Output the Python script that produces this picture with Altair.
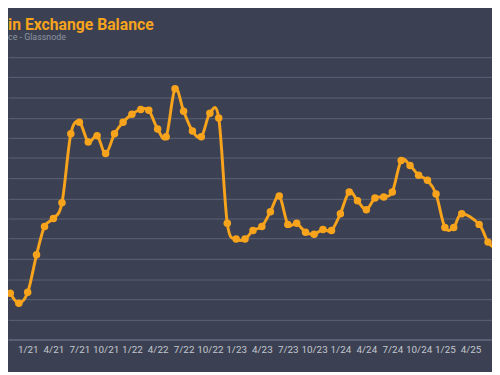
import altair as alt
import pandas as pd

# monthly readings (Apr 2025 not shown in the reference)
months = [
    "2020-11-01", "2020-12-01",
    "2021-01-01", "2021-02-01", "2021-03-01", "2021-04-01", "2021-05-01", "2021-06-01",
    "2021-07-01", "2021-08-01", "2021-09-01", "2021-10-01", "2021-11-01", "2021-12-01",
    "2022-01-01", "2022-02-01", "2022-03-01", "2022-04-01", "2022-05-01", "2022-06-01",
    "2022-07-01", "2022-08-01", "2022-09-01", "2022-10-01", "2022-11-01", "2022-12-01",
    "2023-01-01", "2023-02-01", "2023-03-01", "2023-04-01", "2023-05-01", "2023-06-01",
    "2023-07-01", "2023-08-01", "2023-09-01", "2023-10-01", "2023-11-01", "2023-12-01",
    "2024-01-01", "2024-02-01", "2024-03-01", "2024-04-01", "2024-05-01", "2024-06-01",
    "2024-07-01", "2024-08-01", "2024-09-01", "2024-10-01", "2024-11-01", "2024-12-01",
    "2025-01-01", "2025-02-01", "2025-03-01", "2025-05-01", "2025-06-01", "2025-07-01",
]
balance = [
    229, 180,
    234, 420, 561, 600, 678, 1020,
    1078, 980, 1010, 922, 1020, 1078,
    1117, 1141, 1137, 1044, 1005, 1244,
    1132, 1034, 1005, 1122, 1098, 576,
    498, 498, 541, 561, 634, 712,
    571, 576, 532, 522, 546, 541,
    624, 732, 688, 644, 702, 707,
    732, 888, 863, 815, 790, 722,
    556, 556, 624, 571, 483, 449,
]

# text as visible in the (cropped) reference
title_text = ["in Exchange Balance"]
subtitle_text = ["ce - Glassnode"]

BG = "#3b4152"
ORANGE = "#f7a31c"

df = pd.DataFrame({"month": months, "balance": balance})

x_ticks = [alt.DateTime(year=y, month=m, date=1, utc=True)
           for y in range(2021, 2026) for m in (1, 4, 7, 10)
           if not (y == 2025 and m >= 7)]

x_enc = alt.X(
    "month:T",
    scale=alt.Scale(
        type="utc",
        domain=[alt.DateTime(year=2020, month=10, date=24, utc=True),
                alt.DateTime(year=2025, month=6, date=15, utc=True)],
    ),
    axis=alt.Axis(
        title=None, values=x_ticks, format="%-m/%y", grid=False,
        ticks=False, domain=True, domainColor="#6a7184", domainWidth=1,
        labelColor="#c3c7d0", labelFontSize=10, labelFont="Roboto",
        labelPadding=5, labelFlush=False, labelOverlap=False,
    ),
)
y_enc = alt.Y(
    "balance:Q",
    scale=alt.Scale(domain=[0, 1400], nice=False, zero=True),
    axis=alt.Axis(
        title=None, values=list(range(0, 1401, 100)), grid=True,
        gridColor="#5c6375", gridWidth=1, ticks=False, domain=False,
        labels=False,
    ),
)

line = alt.Chart(df).mark_line(
    color=ORANGE, strokeWidth=3, interpolate="cardinal", clip=True,
    point=alt.OverlayMarkDef(filled=True, size=58, color=ORANGE, opacity=1),
).encode(x=x_enc, y=y_enc)

title = alt.Chart(pd.DataFrame({"t": title_text})).mark_text(
    align="left", baseline="alphabetic", font="Roboto", fontSize=16,
    fontWeight="bold", color=ORANGE,
).encode(text="t:N", x=alt.value(0), y=alt.value(-28))

subtitle = alt.Chart(pd.DataFrame({"t": subtitle_text})).mark_text(
    align="left", baseline="alphabetic", font="Roboto", fontSize=9,
    color="#8d93a1",
).encode(text="t:N", x=alt.value(0), y=alt.value(-17))

chart = alt.layer(line, title, subtitle).properties(
    width=492, height=287,
    background=BG,
    padding={"left": 0, "right": 0, "top": 47, "bottom": 30},
    autosize=alt.AutoSizeParams(type="none"),
).configure_view(stroke=None)

chart.save("out.html", embed_options={"renderer": "svg", "actions": False})
